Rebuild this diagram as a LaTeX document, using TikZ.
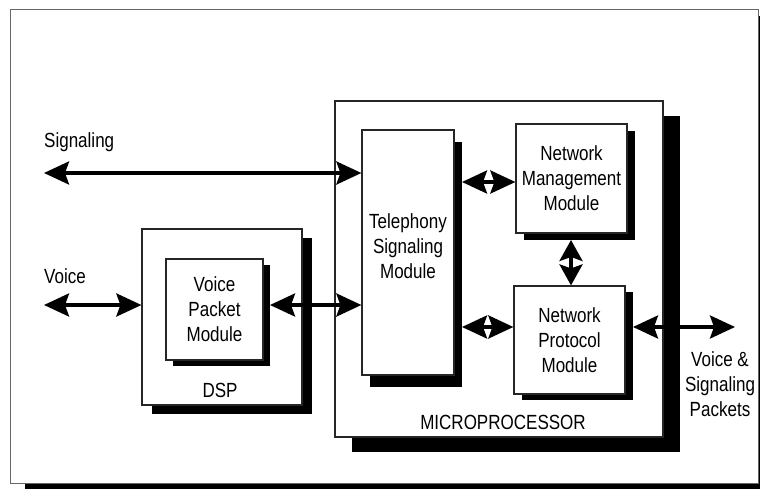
\documentclass[tikz,border=0pt]{standalone}
\usepackage{fontspec}
\setmainfont{Liberation Sans}[FakeStretch=0.83]
\usetikzlibrary{arrows.meta,shadows,calc}
\begin{document}
\begin{tikzpicture}[x=1pt,y=-1pt,
  box/.style={draw=black!85, line width=1.2pt, fill=white, inner sep=0pt, align=center},
  shd/.style 2 args={general shadow={fill=black, shadow xshift=#1pt, shadow yshift=-#2pt}},
  lbl/.style={inner sep=0pt, align=center},
  dbl/.style={line width=3.5pt, {Stealth[length=25pt,width=23pt,inset=4pt]}-{Stealth[length=25pt,width=23pt,inset=4pt]}},
  dbls/.style={line width=3.5pt, {Stealth[length=21pt,width=23pt,inset=4pt]}-{Stealth[length=21pt,width=23pt,inset=4pt]}}
  ]
\fontsize{20.5}{25}\selectfont
\useasboundingbox (0,0) rectangle (760,489);
% outer frame
\node[box, draw=black!60, line width=1pt, shd={15}{6}, minimum width=748pt, minimum height=473pt] (frame) at (384,246.5) {};
% microprocessor
\node[box, line width=1.3pt, shd={17}{15}, minimum width=328pt, minimum height=336pt] (mp) at (499,269) {};
\node[lbl] (mpt) at (503,422) {MICROPROCESSOR};
% DSP
\node[box, shd={10}{9}, minimum width=160pt, minimum height=176pt] (dsp) at (222,317) {};
\node[lbl] (dspt) at (220,390) {DSP};
% modules
\node[box, shd={7}{6}, minimum width=97pt, minimum height=101pt] (vpm) at (214.5,309.5) {Voice\\Packet\\Module};
\node[box, shd={8}{12}, minimum width=92pt, minimum height=245pt] (tel) at (408,252.5) {};
\node[lbl] (telt) at (408,246) {Telephony\\Signaling\\Module};
\node[box, shd={8}{7}, minimum width=111pt, minimum height=109pt] (nmm) at (571.5,178.5) {Network\\Management\\Module};
\node[box, shd={8}{6}, minimum width=111pt, minimum height=108pt] (npm) at (569.5,340) {Network\\Protocol\\Module};
% external labels
\node[lbl, anchor=base west] (sigt) at (44,148) {Signaling};
\node[lbl, anchor=base west] (voit) at (44,283) {Voice};
\node[lbl] (vspt) at (720,384) {Voice \&\\Signaling\\Packets};
% connectors
\coordinate (sigL) at (44,173);
\draw[dbl] (sigL) -- (sigL -| tel.west);
\coordinate (voiL) at (44,305);
\draw[dbl] (voiL) -- (voiL -| dsp.west);
\coordinate (a1) at (270,305);
\draw[dbl] (a1) -- (a1 -| tel.west);
\coordinate (a2) at (462,182);
\draw[dbl] (a2) -- (a2 -| nmm.west);
\coordinate (a3) at (462,327);
\draw[dbl] (a3) -- (a3 -| npm.west);
\coordinate (a4) at (571,240);
\draw[dbls] (a4) -- (a4 |- npm.north);
\coordinate (a5) at (633,327);
\coordinate (outR) at (735,327);
\draw[dbl] (a5) -- (outR);
\end{tikzpicture}
\end{document}
